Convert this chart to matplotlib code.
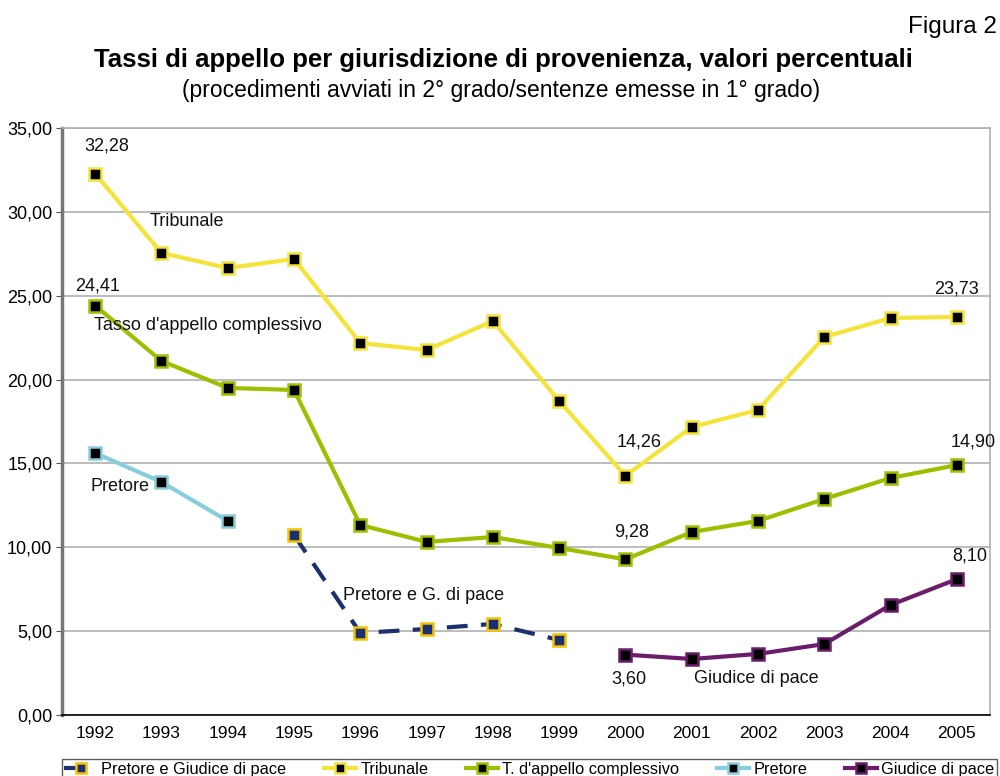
import matplotlib
matplotlib.use("Agg")
import matplotlib.pyplot as plt
import numpy as np

plt.rcParams['font.family'] = ['Liberation Sans', 'DejaVu Sans']

years = ["1992", "1993", "1994", "1995", "1996", "1997", "1998", "1999",
         "2000", "2001", "2002", "2003", "2004", "2005"]
tribunale = [32.28, 27.55, 26.65, 27.19, 22.18, 21.76, 23.49, 18.72,
             14.26, 17.17, 18.19, 22.54, 23.67, 23.73]
complessivo = [24.41, 21.11, 19.50, 19.38, 11.33, 10.32, 10.61, 9.96,
               9.28, 10.91, 11.57, 12.88, 14.13, 14.90]
pretore = [15.62, 13.89, 11.57] + [np.nan] * 11
pretore_gdp = [np.nan] * 3 + [10.73, 4.89, 5.13, 5.43, 4.47] + [np.nan] * 6
giudice_pace = [np.nan] * 8 + [3.60, 3.34, 3.64, 4.23, 6.56, 8.10]
yticks = [0, 5, 10, 15, 20, 25, 30, 35]

fig = plt.figure(figsize=(10, 7.76), dpi=100)
ax = fig.add_axes([0.062, 0.0786, 0.928, 0.7565])
x = np.arange(len(years))

lw = 3.0
ms = 8
ax.plot(x, pretore_gdp, color='#1B3070', lw=lw, dashes=(5, 3.2), marker='s',
        ms=ms, mfc='#1B3070', mec='#F2C200', mew=1.8, zorder=3,
        label='Pretore e Giudice di pace')
ax.plot(x, tribunale, color='#F4E43A', lw=lw, marker='s', ms=ms, mfc='black',
        mec='#F4E43A', mew=1.8, zorder=3, label='Tribunale')
ax.plot(x, complessivo, color='#9CC000', lw=lw, marker='s', ms=ms, mfc='black',
        mec='#9CC000', mew=1.8, zorder=3, label="T. d'appello complessivo")
ax.plot(x, pretore, color='#86CEDB', lw=lw, marker='s', ms=ms, mfc='black',
        mec='#86CEDB', mew=1.8, zorder=3, label='Pretore')
ax.plot(x, giudice_pace, color='#6B1C6A', lw=lw, marker='s', ms=ms, mfc='black',
        mec='#6B1C6A', mew=1.8, zorder=3, label='Giudice di pace')

ax.set_xlim(-0.5, len(years) - 0.5)
ax.set_ylim(0, 35)
ax.set_yticks(yticks)
ax.set_yticklabels([f"{v:.2f}".replace('.', ',') for v in yticks], fontsize=13)
ax.set_xticks(x)
ax.set_xticklabels(years, fontsize=12.5)
ax.tick_params(axis='x', length=0, pad=8)
ax.tick_params(axis='y', length=4, color='#555555', pad=3)
ax.yaxis.grid(True, color='#B0B0B0', lw=1.2)
ax.set_axisbelow(True)
for s in ['top', 'right']:
    ax.spines[s].set_color('#B0B0B0')
    ax.spines[s].set_linewidth(1.2)
ax.spines['left'].set_color('#777777')
ax.spines['left'].set_linewidth(2.5)
ax.spines['bottom'].set_color('black')
ax.spines['bottom'].set_linewidth(1.2)

fs = 13
def ann(xi, yv, t, ha='left'):
    ax.text(xi, yv, t, fontsize=fs, ha=ha, va='center', color='#111111', zorder=4)

ann(0.17, 33.9, "32,28", 'center')
ann(0.04, 25.6, "24,41", 'center')
ann(0.82, 29.4, "Tribunale")
ann(-0.02, 23.2, "Tasso d'appello complessivo")
ann(-0.07, 13.6, "Pretore")
ann(3.74, 7.1, "Pretore e G. di pace")
ann(8.2, 16.3, "14,26", 'center')
ann(13.0, 25.4, "23,73", 'center')
ann(13.25, 16.3, "14,90", 'center')
ann(8.1, 10.9, "9,28", 'center')
ann(13.2, 9.5, "8,10", 'center')
ann(8.05, 2.15, "3,60", 'center')
ann(9.03, 2.15, "Giudice di pace")

leg = fig.legend(loc='lower left', bbox_to_anchor=(0.062, -0.004, 0.935, 0.036),
                 mode='expand', ncol=5, fontsize=11.8, frameon=True, fancybox=False,
                 edgecolor='#333333', handlelength=2.0, handletextpad=0.25,
                 columnspacing=0.6, borderpad=0.15, borderaxespad=0)
leg.get_frame().set_linewidth(1.0)
for h in leg.legend_handles:
    h.set_markersize(7)

fig.text(0.997, 0.965, "Figura 2", ha='right', va='center', fontsize=17.5)
fig.text(0.503, 0.923, "Tassi di appello per giurisdizione di provenienza, valori percentuali",
         ha='center', va='center', fontsize=18.5, fontweight='bold')
fig.text(0.501, 0.884, "(procedimenti avviati in 2° grado/sentenze emesse in 1° grado)",
         ha='center', va='center', fontsize=16.5)

fig.savefig("out.png", dpi=100)
